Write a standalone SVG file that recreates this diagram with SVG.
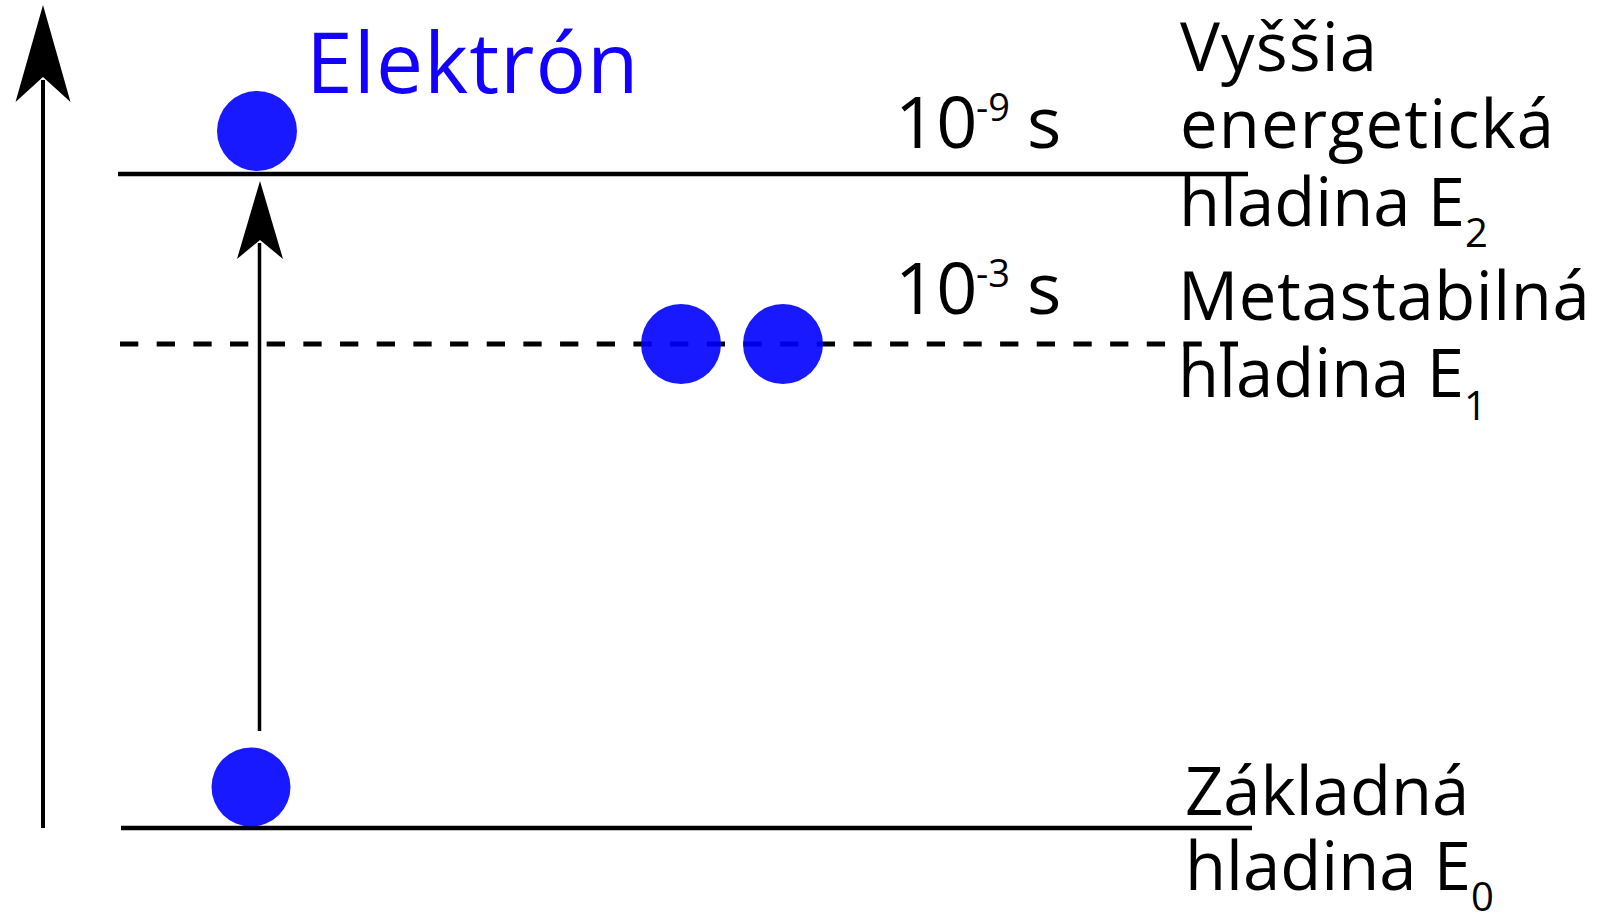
<svg xmlns="http://www.w3.org/2000/svg" width="1601" height="913" viewBox="0 0 1601 913">
  <style>
    .level { stroke: #000; stroke-width: 4.5; fill: none; }
    .level-dashed { stroke: #000; stroke-width: 5; fill: none; stroke-dasharray: 18.3 18.37; }
    .shaft { stroke: #000; fill: none; }
    .head { fill: #000; stroke: none; }
    .electron { fill: #0000ff; fill-opacity: 0.9; }
    .label { font-family: "Open Sans", "Noto Sans", "Liberation Sans", sans-serif; font-size: 67px; fill: #000; }
    .wide { letter-spacing: 1.1px; }
    .semi { letter-spacing: 0.6px; }
    .sub { font-size: 40px; }
    .time { font-family: "Open Sans", "Noto Sans", "Liberation Sans", sans-serif; font-size: 72px; fill: #000; }
    .sup { font-family: "Open Sans", "Noto Sans", "Liberation Sans", sans-serif; font-size: 38px; fill: #000; }
    .title { font-family: "Open Sans", "Noto Sans", "Liberation Sans", sans-serif; font-size: 84px; letter-spacing: 1px; fill: #1400ff; }
  </style>

  <rect x="0" y="0" width="1601" height="913" fill="#fff"/>

  <!-- energy axis -->
  <g id="energy-axis">
    <line class="shaft" x1="43" y1="80" x2="43" y2="828" stroke-width="4"/>
    <path class="head" d="M43,5 L70.5,102 L43,77 L15.5,102 Z"/>
  </g>

  <!-- upper level E2 -->
  <g id="level-e2">
    <line class="level" x1="118" y1="174" x2="1248" y2="174"/>
    <text class="label wide" x="1180" y="71">Vyššia</text>
    <text class="label wide" x="1180" y="148">energetická</text>
    <text class="label" x="1179" y="226">hladina E<tspan class="sub" dy="21">2</tspan></text>
    <text class="time" x="895" y="148">10</text>
    <text class="sup" x="976" y="121">-9</text>
    <text class="time" x="1027" y="148">s</text>
  </g>

  <!-- metastable level E1 -->
  <g id="level-e1">
    <line class="level-dashed" x1="120" y1="344" x2="1238" y2="344"/>
    <text class="label semi" x="1178" y="320">Metastabilná</text>
    <text class="label" x="1178" y="397">hladina E<tspan class="sub" dy="23">1</tspan></text>
    <text class="time" x="895" y="314">10</text>
    <text class="sup" x="976" y="287">-3</text>
    <text class="time" x="1027" y="314">s</text>
  </g>

  <!-- ground level E0 -->
  <g id="level-e0">
    <line class="level" x1="121" y1="828" x2="1252" y2="828"/>
    <text class="label" x="1185" y="815">Základná</text>
    <text class="label" x="1185" y="890">hladina E<tspan class="sub" dy="21">0</tspan></text>
  </g>

  <!-- electron caption -->
  <g id="electron-caption">
    <text class="title" x="306" y="93">Elektrón</text>
  </g>

  <!-- electrons -->
  <g id="electron-e2">
    <circle class="electron" cx="257" cy="131" r="40"/>
  </g>
  <g id="electron-e1-a">
    <circle class="electron" cx="681" cy="344" r="40"/>
  </g>
  <g id="electron-e1-b">
    <circle class="electron" cx="783" cy="344" r="40"/>
  </g>
  <g id="electron-e0">
    <circle class="electron" cx="251" cy="787" r="39.5"/>
  </g>

  <!-- excitation from E0 to E2 -->
  <g id="connectors">
    <line class="shaft" x1="259.5" y1="243" x2="259.5" y2="731" stroke-width="3.5"/>
    <path class="head" d="M260,181 L283,259 L260,240 L237,259 Z"/>
  </g>
</svg>
